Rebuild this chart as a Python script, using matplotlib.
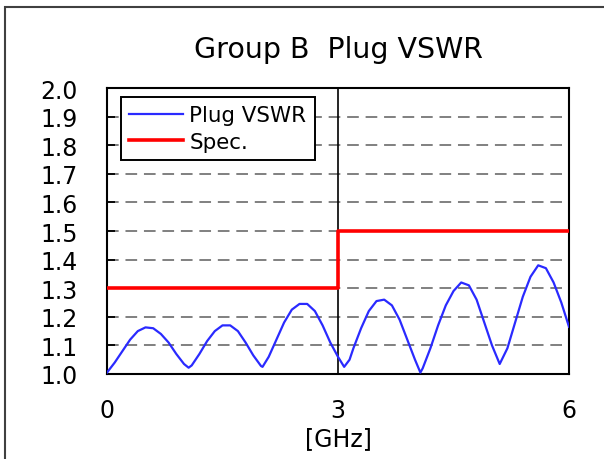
import matplotlib.pyplot as plt
from matplotlib.patches import Rectangle

# frequency [GHz] and plug VSWR
freq = [0.0, 0.1, 0.2, 0.3, 0.4, 0.5, 0.6, 0.7, 0.8, 0.9, 1.0, 1.06,
        1.1, 1.2, 1.3, 1.4, 1.5, 1.6, 1.7, 1.8, 1.9, 2.0, 2.02,
        2.1, 2.2, 2.3, 2.4, 2.5, 2.6, 2.7, 2.8, 2.9, 3.0, 3.08,
        3.15, 3.2, 3.3, 3.4, 3.5, 3.6, 3.7, 3.8, 3.9, 4.0, 4.07,
        4.1, 4.2, 4.3, 4.4, 4.5, 4.6, 4.7, 4.8, 4.9, 5.0, 5.1,
        5.2, 5.3, 5.4, 5.5, 5.6, 5.7, 5.8, 5.9, 6.0]
vswr = [1.005, 1.04, 1.08, 1.12, 1.15, 1.163, 1.16, 1.14, 1.11, 1.07, 1.035, 1.022,
        1.03, 1.07, 1.115, 1.15, 1.17, 1.17, 1.15, 1.11, 1.065, 1.028, 1.025,
        1.06, 1.12, 1.18, 1.225, 1.245, 1.245, 1.22, 1.17, 1.11, 1.06, 1.025,
        1.05, 1.09, 1.16, 1.22, 1.255, 1.26, 1.24, 1.19, 1.12, 1.05, 1.005,
        1.02, 1.09, 1.17, 1.24, 1.29, 1.32, 1.31, 1.26, 1.18, 1.10, 1.035,
        1.09, 1.18, 1.27, 1.34, 1.38, 1.37, 1.32, 1.25, 1.165]

# spec limit
spec_f = [0, 3, 3, 6]
spec_v = [1.3, 1.3, 1.5, 1.5]

yticks = [1.0, 1.1, 1.2, 1.3, 1.4, 1.5, 1.6, 1.7, 1.8, 1.9, 2.0]
xticks = [0, 3, 6]

fig = plt.figure(figsize=(6.04, 4.6), dpi=100)
# outer frame around the whole chart
fig.patches.append(Rectangle((5 / 604, -0.1), 1.2, 1.1 - 8 / 460,
                             transform=fig.transFigure, fill=False,
                             edgecolor="#404040", linewidth=1.5))
ax = fig.add_axes([107 / 604, 85 / 460, 462 / 604, 286 / 460])

for y in yticks[1:-1]:
    ax.axhline(y, color="#808080", linestyle=(0, (6, 3.5)), linewidth=1.4, zorder=1)
ax.axvline(3, color="black", linewidth=1.2, zorder=2)

ax.plot(freq, vswr, color="#2a2aff", linewidth=1.6, label="Plug VSWR", zorder=3)
ax.plot(spec_f, spec_v, color="#ff0000", linewidth=2.6, label="Spec.", zorder=3)

ax.set_xlim(0, 6)
ax.set_ylim(1.0, 2.0)
ax.set_xticks(xticks)
ax.set_yticks(yticks)
ax.set_yticklabels(["%.1f" % v for v in yticks])
ax.tick_params(axis="y", direction="in", length=6, width=1.3, pad=21, labelsize=17)
ax.tick_params(axis="x", length=0, pad=17, labelsize=17)
for s in ax.spines.values():
    s.set_linewidth(1.5)

ax.set_xlabel("[GHz]", fontsize=17, labelpad=3)
fig.text(338 / 604, 1 - 50 / 460, "Group B  Plug VSWR", ha="center", va="center", fontsize=20.5)

leg = ax.legend(loc="upper left", bbox_to_anchor=(0.03, 0.969), fontsize=15.4,
                frameon=True, fancybox=False, handlelength=2.5, handletextpad=0.3,
                borderpad=0.4, labelspacing=0.3, borderaxespad=0)
leg.get_frame().set_edgecolor("black")
leg.get_frame().set_linewidth(1.4)
leg.get_frame().set_alpha(1)

fig.savefig("out.png", dpi=100)
